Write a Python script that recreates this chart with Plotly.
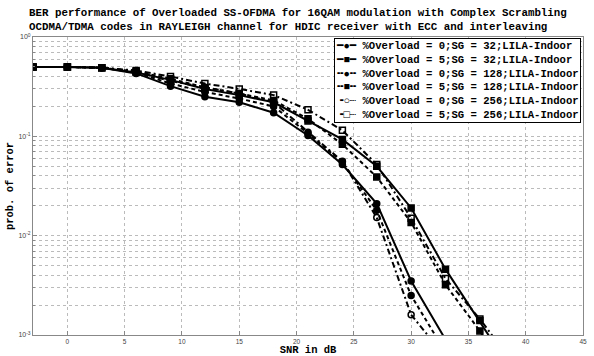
import plotly.graph_objects as go

snr = [-3, 0, 3, 6, 9, 12, 15, 18, 21, 24, 27, 30, 33, 36, 39]

ber_o0_sg32 = [0.5, 0.5, 0.49, 0.43, 0.32, 0.25, 0.22, 0.173, 0.102, 0.052, 0.021, 0.0035, 0.0009]
ber_o5_sg32 = [0.5, 0.5, 0.49, 0.44, 0.37, 0.30, 0.26, 0.22, 0.143, 0.093, 0.050, 0.019, 0.0046, 0.0014, 0.0004]
ber_o0_sg128 = [0.5, 0.5, 0.49, 0.44, 0.34, 0.28, 0.24, 0.20, 0.107, 0.055, 0.018, 0.0025, 0.00067]
ber_o5_sg128 = [0.5, 0.5, 0.49, 0.45, 0.38, 0.31, 0.27, 0.23, 0.150, 0.083, 0.039, 0.0136, 0.0032, 0.0011, 0.0003]
ber_o0_sg256 = [0.5, 0.5, 0.49, 0.45, 0.36, 0.31, 0.27, 0.22, 0.110, 0.056, 0.0152, 0.0016, 0.0006]
ber_o5_sg256 = [0.5, 0.5, 0.49, 0.46, 0.40, 0.34, 0.30, 0.26, 0.185, 0.115, 0.052, 0.015, 0.0037, 0.00145, 0.0005]

names = [
    "%Overload = 0;SG = 32;LILA-Indoor",
    "%Overload = 5;SG = 32;LILA-Indoor",
    "%Overload = 0;SG = 128;LILA-Indoor",
    "%Overload = 5;SG = 128;LILA-Indoor",
    "%Overload = 0;SG = 256;LILA-Indoor",
    "%Overload = 5;SG = 256;LILA-Indoor",
]
legend_glyphs = ["━●━", "━■━", "╍●╍", "╍■╍", "╺○┈", "╺□┈"]
series = [ber_o0_sg32, ber_o5_sg32, ber_o0_sg128, ber_o5_sg128, ber_o0_sg256, ber_o5_sg256]
symbols = ["circle", "square", "circle", "square", "circle-open", "square-open"]
dashes = ["solid", "solid", "4px,3px", "4px,3px", "6px,3px,2px,3px", "6px,3px,2px,3px"]

yticks = [0.001, 0.01, 0.1, 1]
yticklabels = ["10<sup>-3</sup>", "10<sup>-2</sup>", "10<sup>-1</sup>", "10<sup>0</sup>"]
xticks = [0, 5, 10, 15, 20, 25, 30, 35, 40, 45]

title_text = ("BER performance of Overloaded SS-OFDMA for 16QAM modulation with Complex Scrambling<br>"
              "OCDMA/TDMA codes in RAYLEIGH channel for HDIC receiver with ECC and interleaving")

mono = "Liberation Mono, DejaVu Sans Mono, monospace"

fig = go.Figure()
for name, ys, sym, dash in zip(names, series, symbols, dashes):
    fig.add_trace(go.Scatter(
        x=snr[:len(ys)], y=ys, name=name, mode="lines+markers",
        line=dict(color="black", width=2, dash=dash),
        marker=dict(symbol=sym, size=6, color="black",
                    line=dict(color="black", width=1.5)),
        showlegend=False,
    ))

legend_text = "<br>".join(f"{g} {n}" for g, n in zip(legend_glyphs, names))

fig.add_annotation(
    text=title_text, xref="paper", yref="paper", x=-6 / 550, y=1,
    xanchor="left", yanchor="bottom", yshift=2, align="left", showarrow=False,
    font=dict(family=mono, size=10.8, color="black", weight="bold"),
)
fig.add_annotation(
    text=legend_text, xref="paper", yref="paper", x=1, y=1,
    xanchor="right", yanchor="top", xshift=-2, yshift=-1, align="left", showarrow=False,
    bgcolor="white", bordercolor="black", borderwidth=1, borderpad=1,
    font=dict(family=mono, size=10.6, color="black", weight="bold"),
)

fig.update_layout(
    width=594, height=356,
    margin=dict(l=33, r=11, t=37, b=21),
    paper_bgcolor="white", plot_bgcolor="white",
    showlegend=False,
    xaxis=dict(
        range=[-3, 45], tickvals=xticks,
        showgrid=True, gridcolor="#bbbbbb", griddash="dot", gridwidth=1,
        showline=True, linecolor="#888888", linewidth=1, mirror=True,
        ticks="inside", ticklen=4, tickcolor="#888888",
        tickfont=dict(family="Liberation Sans, Arial", size=6.5, color="#444444"),
        title=dict(text="SNR in dB", standoff=0,
                   font=dict(family=mono, size=10.5, color="black", weight="bold")),
        zeroline=False, automargin=False,
    ),
    yaxis=dict(
        type="log", range=[-3, 0],
        tickvals=yticks, ticktext=yticklabels,
        showgrid=True, gridcolor="#bbbbbb", griddash="dot", gridwidth=1,
        showline=True, linecolor="#888888", linewidth=1, mirror=True,
        ticks="inside", ticklen=4, tickcolor="#888888",
        tickfont=dict(family="Liberation Sans, Arial", size=7, color="#444444"),
        minor=dict(dtick="D1", showgrid=True, gridcolor="#bbbbbb", griddash="dot",
                   ticks="inside", ticklen=2, tickcolor="#888888"),
        title=dict(text="prob. of error", standoff=2,
                   font=dict(family=mono, size=10.5, color="black", weight="bold")),
        zeroline=False, automargin=False,
    ),
)

fig.write_html("out.html")
